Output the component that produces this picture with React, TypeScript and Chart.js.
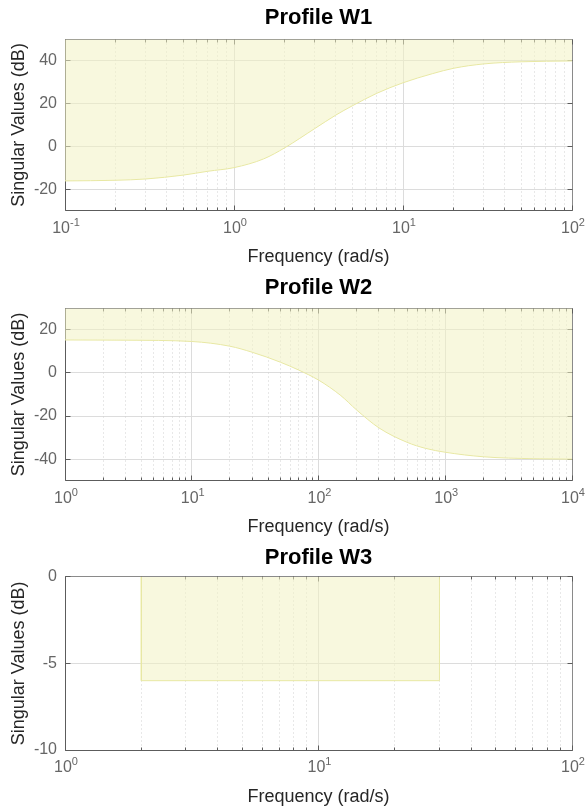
import React, { useEffect, useRef } from 'react';
import { Chart, registerables } from 'chart.js';

Chart.register(...registerables);

const FONT = "'Liberation Sans', Arial, Helvetica, sans-serif";

// ---- Profile W1 ----
const W1_FREQ = [0.1, 0.2, 0.3, 0.5, 0.7, 1, 1.5, 2, 3, 4, 5, 7, 10, 15, 20, 30, 50, 100];
const W1_DB = [-16.1, -15.8, -15.2, -13.4, -11.6, -9.9, -5.8, -0.6, 8.3, 14.6, 18.9, 24.8, 29.7, 34.0, 36.5, 38.5, 39.5, 39.9];
const W1_X_TICKS = [0.1, 1, 10, 100];
const W1_X_EXP = ['-1', '0', '1', '2'];
const W1_Y_TICKS = [-20, 0, 20, 40];

// ---- Profile W2 ----
const W2_FREQ = [1, 3, 10, 20, 30, 50, 70, 100, 150, 200, 300, 500, 700, 1000, 2000, 5000, 10000];
const W2_DB = [15.3, 15.2, 14.6, 12.4, 9.6, 5.0, 1.3, -3.3, -10.5, -17.2, -25.5, -32.2, -35.0, -36.8, -38.9, -39.8, -40.0];
const W2_X_TICKS = [1, 10, 100, 1000, 10000];
const W2_X_EXP = ['0', '1', '2', '3', '4'];
const W2_Y_TICKS = [-40, -20, 0, 20];

// ---- Profile W3 ----
const W3_FREQ = [2, 2, 30, 30];
const W3_DB = [0, -6, -6, 0];
const W3_X_TICKS = [1, 10, 100];
const W3_X_EXP = ['0', '1', '2'];
const W3_Y_TICKS = [-10, -5, 0];

const X_BASE = '10';

type Panel = {
  title: string;
  freq: number[];
  db: number[];
  smooth: boolean;
  xMin: number;
  xMax: number;
  xTicks: number[];
  xExp: string[];
  yMin: number;
  yMax: number;
  yTicks: number[];
  top: number;
  plotTop: number;
  plotBottom: number;
};

const PANELS: Panel[] = [
  { title: 'Profile W1', freq: W1_FREQ, db: W1_DB, smooth: true, xMin: 0.1, xMax: 100, xTicks: W1_X_TICKS, xExp: W1_X_EXP, yMin: -30, yMax: 50, yTicks: W1_Y_TICKS, top: 0, plotTop: 39.3, plotBottom: 210.7 },
  { title: 'Profile W2', freq: W2_FREQ, db: W2_DB, smooth: true, xMin: 1, xMax: 10000, xTicks: W2_X_TICKS, xExp: W2_X_EXP, yMin: -50, yMax: 30, yTicks: W2_Y_TICKS, top: 270, plotTop: 38.3, plotBottom: 210.7 },
  { title: 'Profile W3', freq: W3_FREQ, db: W3_DB, smooth: false, xMin: 1, xMax: 100, xTicks: W3_X_TICKS, xExp: W3_X_EXP, yMin: -10, yMax: 0, yTicks: W3_Y_TICKS, top: 540, plotTop: 36.7, plotBottom: 210 },
];

const H = 270;
const W = 588;
const TITLE_PAD_TOP = 4.8;
const TITLE_LINE = 22 * 1.2;

const align = (p: number) => Math.round(p - 0.5) + 0.5;

const decor = {
  id: 'decor',
  beforeDatasetsDraw(chart: any) {
    const { ctx, chartArea: a } = chart;
    const xs = chart.scales.x;
    const ys = chart.scales.y;
    const L = align(a.left);
    const R = align(a.right);
    const T = align(a.top);
    const B = align(a.bottom);
    const minors: number[] = [];
    for (let d = xs.min; d < xs.max * 0.999; d *= 10) {
      for (let k = 2; k <= 9; k++) minors.push(d * k);
    }
    ctx.save();
    // minor dotted grid
    ctx.strokeStyle = '#d0d0d0';
    ctx.lineWidth = 1;
    ctx.setLineDash([1, 3]);
    for (const v of minors) {
      const px = align(xs.getPixelForValue(v));
      ctx.beginPath();
      ctx.moveTo(px, T);
      ctx.lineTo(px, B);
      ctx.stroke();
    }
    ctx.setLineDash([]);
    // box
    ctx.strokeStyle = '#8a8a8a';
    ctx.beginPath();
    ctx.moveTo(L, T);
    ctx.lineTo(R, T);
    ctx.lineTo(R, B);
    ctx.stroke();
    ctx.strokeStyle = '#5c5c5c';
    ctx.beginPath();
    ctx.moveTo(L, T);
    ctx.lineTo(L, B);
    ctx.lineTo(R, B);
    ctx.stroke();
    // tick marks (inward)
    ctx.strokeStyle = '#5c5c5c';
    ctx.beginPath();
    for (const t of xs.ticks) {
      const px = align(xs.getPixelForValue(t.value));
      ctx.moveTo(px, B); ctx.lineTo(px, B - 5);
      ctx.moveTo(px, T); ctx.lineTo(px, T + 5);
    }
    for (const v of minors) {
      const px = align(xs.getPixelForValue(v));
      ctx.moveTo(px, B); ctx.lineTo(px, B - 3);
      ctx.moveTo(px, T); ctx.lineTo(px, T + 3);
    }
    for (const t of ys.ticks) {
      const py = align(ys.getPixelForValue(t.value));
      ctx.moveTo(L, py); ctx.lineTo(L + 5, py);
      ctx.moveTo(R, py); ctx.lineTo(R - 5, py);
    }
    ctx.stroke();
    ctx.restore();
  },
  afterDraw(chart: any, _args: any, opts: any) {
    // decade tick labels with raised exponents: 10^n
    const { ctx, chartArea: a } = chart;
    const xs = chart.scales.x;
    const exps: string[] = opts.exps || [];
    ctx.save();
    ctx.fillStyle = '#666';
    ctx.textBaseline = 'alphabetic';
    ctx.textAlign = 'left';
    const baseY = a.bottom + 22;
    xs.ticks.forEach((t: any, i: number) => {
      const px = xs.getPixelForValue(t.value);
      ctx.font = `16px ${FONT}`;
      const wb = ctx.measureText(X_BASE).width;
      ctx.font = `11px ${FONT}`;
      const we = ctx.measureText(exps[i]).width;
      const x0 = px - (wb + we) / 2 + 1;
      ctx.font = `16px ${FONT}`;
      ctx.fillText(X_BASE, x0, baseY);
      ctx.font = `11px ${FONT}`;
      ctx.fillText(exps[i], x0 + wb, baseY - 6.7);
    });
    ctx.restore();
  },
};

function ProfileChart({ p }: { p: Panel }) {
  const ref = useRef<HTMLCanvasElement>(null);
  useEffect(() => {
    if (!ref.current) return;
    const chart = new Chart(ref.current, {
      type: 'line',
      data: {
        datasets: [
          {
            data: p.freq.map((f, i) => ({ x: f, y: p.db[i] })),
            borderColor: '#e8e8a4',
            borderWidth: 1,
            backgroundColor: 'rgba(242,242,195,0.55)',
            fill: 'end',
            pointRadius: 0,
            cubicInterpolationMode: p.smooth ? 'monotone' : 'default',
            tension: 0,
          },
        ],
      },
      options: {
        animation: false,
        responsive: false,
        events: [],
        layout: { padding: { left: 0, right: 16, top: 0, bottom: 0 } },
        plugins: {
          legend: { display: false },
          tooltip: { enabled: false },
          decor: { exps: p.xExp },
          title: {
            display: true,
            text: p.title,
            color: '#000',
            fullSize: false,
            font: { family: FONT, size: 22, weight: 'bold' },
            padding: { top: TITLE_PAD_TOP, bottom: p.plotTop - TITLE_PAD_TOP - TITLE_LINE },
          },
        },
        scales: {
          x: {
            type: 'logarithmic',
            min: p.xMin,
            max: p.xMax,
            afterBuildTicks: (s: any) => {
              s.ticks = p.xTicks.map((v) => ({ value: v }));
            },
            afterFit: (s: any) => {
              s.height = H - p.plotBottom;
            },
            ticks: {
              display: false,
              callback: (_v: any, i: number) => X_BASE + '^' + p.xExp[i],
              autoSkip: false,
            },
            grid: { color: '#dcdcdc', drawTicks: false },
            border: { display: false },
            title: {
              display: true,
              text: 'Frequency (rad/s)',
              color: '#262626',
              font: { family: FONT, size: 18 },
              padding: { top: 0, bottom: 2.5 },
            },
          },
          y: {
            type: 'linear',
            min: p.yMin,
            max: p.yMax,
            afterBuildTicks: (s: any) => {
              s.ticks = p.yTicks.map((v) => ({ value: v }));
            },
            afterFit: (s: any) => {
              s.width = 65;
            },
            ticks: {
              callback: (v: any) => String(v),
              color: '#666',
              font: { family: FONT, size: 16 },
              padding: 8,
            },
            grid: { color: '#dcdcdc', drawTicks: false },
            border: { display: false },
            title: {
              display: true,
              text: 'Singular Values (dB)',
              color: '#262626',
              font: { family: FONT, size: 18 },
              padding: { top: 8, bottom: 0 },
            },
          },
        },
      } as any,
      plugins: [decor],
    });
    return () => chart.destroy();
  }, []);
  return (
    <div style={{ position: 'absolute', left: 0, top: p.top, width: W, height: H }}>
      <canvas ref={ref} width={W} height={H} style={{ display: 'block' }} />
    </div>
  );
}

export default function App() {
  return (
    <div style={{ position: 'absolute', left: 0, top: 0, width: W, height: 808, background: '#fff', overflow: 'hidden' }}>
      {PANELS.map((p) => (
        <ProfileChart key={p.title} p={p} />
      ))}
    </div>
  );
}
